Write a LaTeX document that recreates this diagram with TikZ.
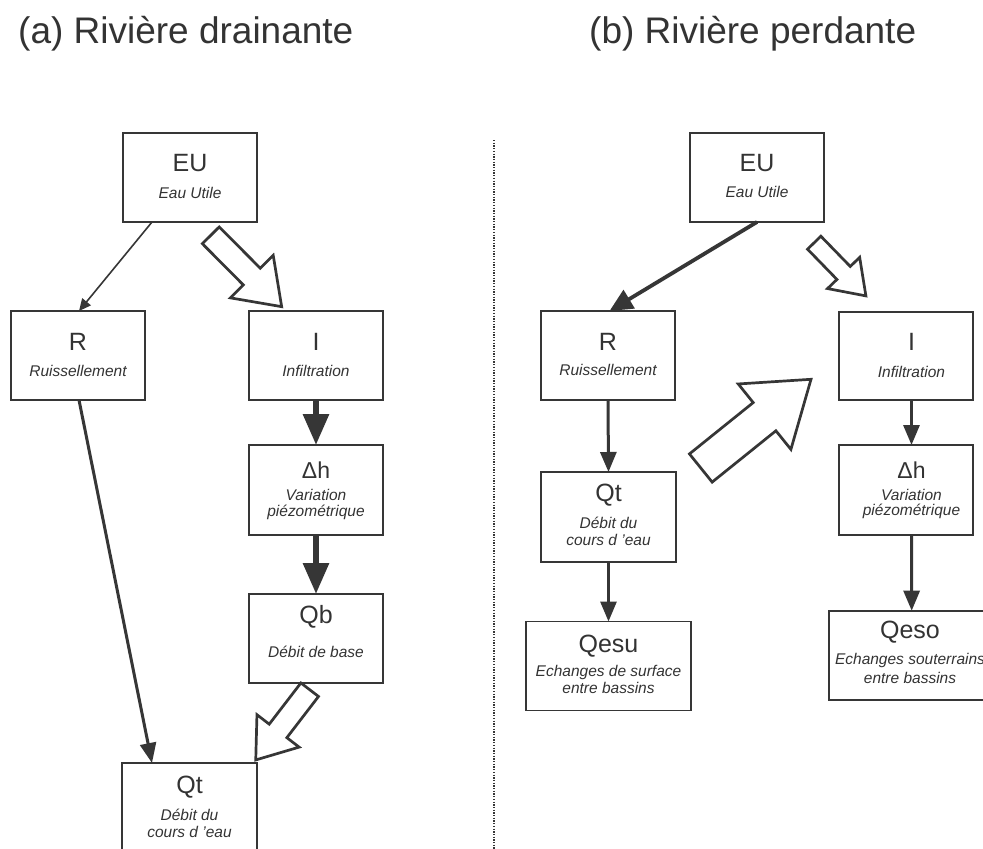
\documentclass[tikz,border=0pt]{standalone}
\usepackage{fontspec}
\setmainfont{Liberation Sans}
\usetikzlibrary{arrows.meta,calc}
\definecolor{ink}{HTML}{333333}
\definecolor{edge}{HTML}{363636}
\newcommand\hollowarrow[5]{%
  \pgfpointdiff{\pgfpointanchor{#1}{center}}{\pgfpointanchor{#2}{center}}%
  \pgfgetlastxy{\hollowdx}{\hollowdy}%
  \pgfmathsetmacro\hollowang{atan2(\hollowdy,\hollowdx)}%
  \pgfmathsetmacro\hollowlen{veclen(\hollowdx,\hollowdy)}%
  \begin{scope}[shift={(#1)},rotate=\hollowang]
    \draw[hollow] (0,-#3) -- ({\hollowlen-#5},-#3) -- ({\hollowlen-#5},-#4) -- (\hollowlen,0)
      -- ({\hollowlen-#5},#4) -- ({\hollowlen-#5},#3) -- (0,#3) -- cycle;
  \end{scope}}
\begin{document}
\begin{tikzpicture}[x=1pt,y=-1pt,
  box/.style={draw=edge,line width=1.7pt,fill=white,minimum width=134pt,minimum height=89pt,
    anchor=north west,inner sep=0pt,outer sep=0pt},
  big/.style={font=\fontsize{25}{30}\selectfont,text=ink,anchor=base,inner sep=0pt},
  mid/.style={font=\fontsize{23}{28}\selectfont,text=ink,anchor=base,inner sep=0pt},
  sub/.style={font=\fontsize{15.5}{18}\selectfont\itshape,text=ink,anchor=base,inner sep=0pt},
  ttl/.style={font=\fontsize{37}{44}\selectfont,text=ink,anchor=base west,inner sep=0pt},
  hollow/.style={draw=edge,line width=2.7pt,fill=white,line join=miter},
  thinarr/.style={draw=edge,line width=1.6pt,-{Triangle[length=12pt,width=11pt]}},
  medarr/.style={draw=edge,line width=3pt,-{Triangle[length=20pt,width=16pt]}},
  rarr/.style={draw=edge,line width=3.8pt,-{Triangle[length=23pt,width=21pt]}},
  fatarr/.style={draw=edge,line width=6pt,-{Triangle[length=31pt,width=25pt]}},
  sep/.style={draw=edge,line width=1.5pt,dash pattern=on 1.3pt off 1.4pt}]
\useasboundingbox (0,0) rectangle (983,849);
\fill[white] (0,0) rectangle (983,849);

% titles
\node[ttl] (ta) at (18,43.3) {(a) Rivière drainante};
\node[ttl] (tb) at (589,43.3) {(b) Rivière perdante};

% separator
\coordinate (dTop) at (494,140);
\coordinate (dBot) at (494,849);
\draw[sep] (dTop) -- (dBot);

% ---------- left panel ----------
\node[box] (EUa) at (123,133) {};
\node[big] (EUa1) at ($(EUa.north)+(0,38.7)$) {EU};
\node[sub] (EUa2) at ($(EUa.north)+(0,65.3)$) {Eau Utile};

\node[box] (Ra) at (11,311) {};
\node[big] (Ra1) at ($(Ra.north)+(0,39)$) {R};
\node[sub] (Ra2) at ($(Ra.north)+(0,65.7)$) {Ruissellement};

\node[box] (Ia) at (249,311) {};
\node[big] (Ia1) at ($(Ia.north)+(0,39)$) {I};
\node[sub] (Ia2) at ($(Ia.north)+(0,65.7)$) {Infiltration};

\node[box,minimum height=90pt] (dha) at (249,445) {};
\node[mid] (dha1) at ($(dha.north)+(0,33.3)$) {Δh};
\node[sub] (dha2) at ($(dha.north)+(0,55.7)$) {Variation};
\node[sub] (dha3) at ($(dha.north)+(0,71)$) {piézométrique};

\node[box] (Qba) at (249,594) {};
\node[big] (Qba1) at ($(Qba.north)+(0,29.3)$) {Qb};
\node[sub] (Qba2) at ($(Qba.north)+(0,63)$) {Débit de base};

\node[box,minimum width=135pt] (Qta) at (122,763) {};
\node[big] (Qta1) at ($(Qta.north)+(0,30.3)$) {Qt};
\node[sub] (Qta2) at ($(Qta.north)+(0,57)$) {Débit du};
\node[sub] (Qta3) at ($(Qta.north)+(0,74.7)$) {cours d 'eau};

\draw[thinarr] ([xshift=29pt]EUa.south west) -- ([xshift=68pt]Ra.north west);
\draw[medarr] ([xshift=68pt]Ra.south west) -- ([xshift=30pt]Qta.north west);
\draw[fatarr] (Ia.south) -- (dha.north);
\draw[fatarr] (dha.south) -- (Qba.north);

\coordinate (hA1) at (210.8,235.3);
\coordinate (hA2) at (281.7,306.7);
\hollowarrow{hA1}{hA2}{11.9}{30.2}{42.4}
\coordinate (hB1) at (309.7,689.7);
\coordinate (hB2) at (255.7,760);
\hollowarrow{hB1}{hB2}{11.1}{26.6}{36.6}

% ---------- right panel ----------
\node[box] (EUb) at (690,133) {};
\node[big] (EUb1) at ($(EUb.north)+(0,38.7)$) {EU};
\node[sub] (EUb2) at ($(EUb.north)+(0,64.7)$) {Eau Utile};

\node[box] (Rb) at (541,311) {};
\node[big] (Rb1) at ($(Rb.north)+(0,39)$) {R};
\node[sub] (Rb2) at ($(Rb.north)+(0,64.7)$) {Ruissellement};

\node[box,minimum height=88pt] (Ib) at (839,312) {};
\node[big] (Ib1) at ($(Ib.north)+(5.5,38.3)$) {I};
\node[sub] (Ib2) at ($(Ib.north)+(5.5,65)$) {Infiltration};

\node[box,minimum height=90pt] (dhb) at (839,445) {};
\node[mid] (dhb1) at ($(dhb.north)+(5.5,33.3)$) {Δh};
\node[sub] (dhb2) at ($(dhb.north)+(5.5,55)$) {Variation};
\node[sub] (dhb3) at ($(dhb.north)+(5.5,70.5)$) {piézométrique};

\node[box,minimum width=135pt,minimum height=90pt] (Qtb) at (541,472) {};
\node[big] (Qtb1) at ($(Qtb.north)+(0,29.7)$) {Qt};
\node[sub] (Qtb2) at ($(Qtb.north)+(0,56.3)$) {Débit du};
\node[sub] (Qtb3) at ($(Qtb.north)+(0,73.7)$) {cours d 'eau};

\node[box,minimum width=165pt] (Qesu) at (526,621.5) {};
\node[big] (Qesu1) at ($(Qesu.north)+(0,30.7)$) {Qesu};
\node[sub] (Qesu2) at ($(Qesu.north)+(0,55)$) {Echanges de surface};
\node[sub] (Qesu3) at ($(Qesu.north)+(0,71.7)$) {entre bassins};

\node[box,minimum width=162pt] (Qeso) at (829,610.7) {};
\node[big] (Qeso1) at ($(Qeso.north)+(0,27.7)$) {Qeso};
\node[sub] (Qeso2) at ($(Qeso.north)+(0,54)$) {Echanges souterrains};
\node[sub] (Qeso3) at ($(Qeso.north)+(0,72.7)$) {entre bassins};

\draw[rarr] (EUb.south) -- ([xshift=1.5pt]Rb.north);
\draw[medarr] (Rb.south) -- (Qtb.north);
\draw[medarr] (Qtb.south) -- (Qesu.north);
\draw[medarr] ([xshift=5.5pt]Ib.south) -- ([xshift=5.5pt]dhb.north);
\draw[medarr] ([xshift=5.5pt]dhb.south) -- ([xshift=1.7pt]Qeso.north);

\coordinate (hC1) at (814.2,242.7);
\coordinate (hC2) at (866,296);
\hollowarrow{hC1}{hC2}{9.3}{22.4}{32}
\coordinate (hD1) at (700.8,468);
\coordinate (hD2) at (811,379.3);
\hollowarrow{hD1}{hD2}{18.1}{42}{59.6}
\end{tikzpicture}
\end{document}
